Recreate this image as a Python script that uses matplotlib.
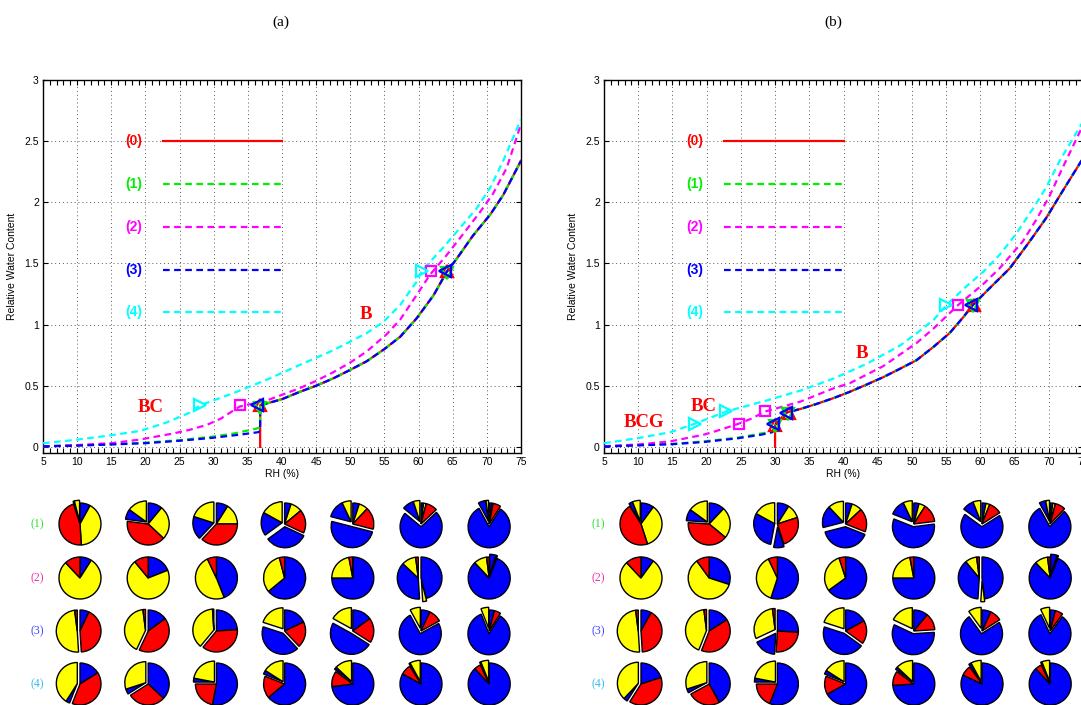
import numpy as np
import matplotlib
matplotlib.use('Agg')
import matplotlib.pyplot as plt

plt.rcParams['font.family'] = ['Liberation Sans', 'DejaVu Sans']

# ---------------- curves, panel (a) ----------------
a_up_rh = [36.8, 40, 42.6, 45, 47.5, 50, 52.4, 55, 57.3, 59.7, 62.2, 64.1, 65.6, 68, 70.5, 72.4, 75]
a_up_w = [0.34, 0.39, 0.45, 0.50, 0.56, 0.63, 0.70, 0.80, 0.90, 1.05, 1.24, 1.43, 1.54, 1.73, 1.90, 2.06, 2.34]
a0_rh = [36.8] + a_up_rh
a0_w = [0.0] + a_up_w
a1_rh = [5, 10, 15, 20, 25, 30, 33, 36.3, 36.8] + a_up_rh
a1_w = [0.005, 0.012, 0.022, 0.035, 0.055, 0.085, 0.11, 0.15, 0.16] + a_up_w
a3_rh = [5, 10, 15, 20, 25, 30, 33.8, 36.5, 36.8] + a_up_rh
a3_w = [0.004, 0.01, 0.02, 0.03, 0.05, 0.075, 0.10, 0.12, 0.13] + a_up_w
a2_rh = [5, 10, 15, 19.2, 24.1, 26.5, 29, 31, 33.8, 37.8, 42.6, 45, 47.5, 50, 52.4, 55.3, 57.3,
         59.7, 61.7, 64, 66.1, 69, 70.9, 72.9, 75]
a2_w = [0.005, 0.015, 0.03, 0.06, 0.11, 0.14, 0.18, 0.23, 0.33, 0.38, 0.48, 0.54, 0.61, 0.69, 0.78,
        0.92, 1.04, 1.24, 1.41, 1.56, 1.71, 1.92, 2.07, 2.28, 2.64]
a4_rh = [5, 9.4, 14.3, 19.2, 23.1, 26.5, 28, 32.9, 37.8, 42.6, 47.5, 52.4, 54.8, 57.3, 59.7, 60.5,
         63.6, 65.6, 68.5, 70.5, 72.4, 75]
a4_w = [0.03, 0.055, 0.09, 0.13, 0.20, 0.28, 0.34, 0.44, 0.55, 0.67, 0.79, 0.93, 1.02, 1.16, 1.35,
        1.44, 1.63, 1.76, 1.95, 2.12, 2.34, 2.68]

# transition points (markers) for series (0)..(4)
a_mk_rh = [[36.8, 64.1], [36.8, 64.1], [33.8, 61.8], [36.4, 63.9], [28.0, 60.5]]
a_mk_w = [[0.34, 1.44], [0.32, 1.42], [0.34, 1.44], [0.34, 1.44], [0.34, 1.44]]

# ---------------- curves, panel (b) ----------------
b_up_rh = [30.0, 31.6, 33.7, 36, 38.6, 40.9, 43.4, 45.8, 48.3, 50.7, 53.2, 55.5, 57.5, 58.9, 61.4,
           64.3, 67.2, 69.6, 72, 75]
b_up_w = [0.18, 0.28, 0.31, 0.35, 0.40, 0.45, 0.51, 0.57, 0.64, 0.71, 0.82, 0.93, 1.06, 1.16, 1.30,
          1.46, 1.68, 1.87, 2.09, 2.36]
b0_rh = [30.0] + b_up_rh
b0_w = [0.0] + b_up_w
b1_rh = [5, 10, 15, 19.6, 24.5, 28, 30] + b_up_rh
b1_w = [0.005, 0.015, 0.025, 0.045, 0.075, 0.11, 0.13] + b_up_w
b3_rh = [5, 10, 15, 19.6, 24.5, 28, 29.6] + b_up_rh
b3_w = [0.003, 0.012, 0.022, 0.04, 0.07, 0.10, 0.12] + b_up_w
b2_rh = [5, 10, 14.7, 19.6, 22, 24.7, 26.5, 28.6, 33.7, 38.6, 40.9, 45.8, 50.7, 53.2, 56.75, 60.4,
         62.8, 66.2, 68.2, 70.1, 72, 75]
b2_w = [0.005, 0.02, 0.045, 0.10, 0.14, 0.19, 0.23, 0.29, 0.37, 0.48, 0.52, 0.66, 0.85, 0.97, 1.16,
        1.33, 1.46, 1.68, 1.86, 2.05, 2.28, 2.63]
b4_rh = [5, 9.8, 14.7, 18.3, 22.9, 28.8, 33.7, 38.6, 43.4, 48.3, 50.7, 53.2, 55.05, 57.9, 60.4,
         62.8, 65.2, 67.7, 69.6, 71.6, 75]
b4_w = [0.03, 0.07, 0.12, 0.19, 0.29, 0.38, 0.46, 0.56, 0.68, 0.83, 0.93, 1.04, 1.16, 1.31, 1.43,
        1.57, 1.74, 1.95, 2.12, 2.34, 2.66]

b_mk_rh = [[30.0, 32.0, 59.0], [30.0, 31.9, 58.9], [24.7, 28.6, 56.75], [29.7, 31.6, 58.7],
           [18.3, 22.9, 55.05]]
b_mk_w = [[0.18, 0.28, 1.16], [0.17, 0.27, 1.15], [0.19, 0.29, 1.16], [0.19, 0.28, 1.16],
          [0.19, 0.29, 1.16]]

series_lbl = ['(0)', '(1)', '(2)', '(3)', '(4)']

# ---------------- pie compositions (clockwise from top, '*' = exploded group) ----------------
pies_a = [
    ["b.08 y.41 r.46 | *b.01 y.04", "b.11 y.26 r.40 | *b.08 y.15", "b.09 y.16 r.37 | *b.18 y.20",
     "b.05 y.09 r.18 | *b.33 | *b.18 y.17", "b.05 y.07 r.17 | *b.50 | *b.14 y.07",
     "b.02 y.02 r.09 | *b.73 | *b.09 y.05", "b.02 y.01 r.06 | *b.83 | *b.06 y.02"],
    ["b.09 y.79 r.12", "b.19 y.70 r.11", "b.44 y.49 r.07", "b.64 y.32 r.04", "b.75 y.22 r.03",
     "b.46 | *y.03 | *b.38 y.11 r.02", "*b.05 y.01 | b.82 y.10 r.02"],
    ["b.07 r.42 | *y.49 r.02", "b.15 r.42 | *y.41 r.02", "b.24 r.37 | *y.38 r.01",
     "b.18 r.20 | *b.42 | *y.20", "b.15 r.19 | *b.49 | *y.17", "b.07 r.10 | *b.75 | *y.08",
     "b.04 r.05 | *b.85 | *y.06"],
    ["b.16 r.40 | *b.03 y.41", "b.37 r.29 | *b.04 y.30", "b.53 r.22 | *b.03 y.22",
     "b.64 r.17 | *b.03 y.16", "b.73 r.12 | *b.02 y.13", "b.83 r.08 | *b.01 y.08",
     "b.88 r.05 | *b.01 y.06"],
]
pies_b = [
    ["b.10 y.35 r.46 | *b.03 y.06", "b.12 y.24 r.40 | *b.09 y.15", "b.09 y.11 r.25 | *b.08 | *b.30 y.17",
     "b.05 y.08 r.18 | *b.40 | *b.17 y.12", "b.04 y.05 r.14 | *b.58 | *b.12 y.07",
     "b.03 y.03 r.10 | *b.69 | *b.09 y.06", "b.02 y.02 r.08 | *b.80 | *b.05 y.03"],
    ["b.10 y.78 r.12", "b.30 y.60 r.10", "b.55 y.38 r.07", "b.65 y.30 r.05", "b.75 y.22 r.03",
     "b.48 | *y.03 | *b.38 y.09 r.02", "*b.05 y.01 | b.82 y.10 r.02"],
    ["b.08 r.41 | *y.49 r.02", "b.16 r.40 | *y.42 r.02", "b.26 r.25 | *b.17 | *y.30 r.02",
     "b.17 r.18 | *b.45 | *y.20", "b.11 r.13 | *b.58 | *y.18", "b.07 r.09 | *b.74 | *y.10",
     "b.04 r.06 | *b.83 | *y.07"],
    ["b.20 r.39 | *b.03 y.38", "b.42 r.25 | *b.03 y.30", "b.56 r.19 | *b.03 y.22",
     "b.67 r.14 | *b.03 y.16", "b.74 r.11 | *b.02 y.13", "b.82 r.08 | *b.02 y.08",
     "b.88 r.05 | *b.01 y.06"],
]
row_lbl = ['(1)', '(2)', '(3)', '(4)']

# ---------------- styles ----------------
line_cols = ['#ff0000', '#00ee00', '#ff00ff', '#0000ff', '#00ffff']
mk_style = ['^', 'v', 's', '<', '>']
mk_size = [8, 8, 7, 8, 8]
row_cols = ['#33dd33', '#ee33aa', '#4444ff', '#33bbee']
pie_cols = {'b': '#0000ff', 'y': '#ffff00', 'r': '#ff0000'}

W, H = 1081, 705
fig = plt.figure(figsize=(W / 100, H / 100), dpi=100)


def style_axes(ax):
    ax.set_xlim(5, 75)
    ax.set_ylim(-0.05, 3)
    ax.set_xticks(np.arange(5, 76, 5))
    ax.set_xticks(np.arange(5, 76, 1), minor=True)
    ax.set_yticks(np.arange(0, 3.01, 0.5))
    ax.set_yticklabels(['0', '0.5', '1', '1.5', '2', '2.5', '3'])
    ax.tick_params(which='both', direction='in', top=True, right=True, length=3.5,
                   width=0.8, labelsize=7.5, pad=3)
    ax.grid(True, which='major', linestyle=(0, (1, 3)), color='0.35', linewidth=0.7)
    for s in ax.spines.values():
        s.set_linewidth(1.0)
    ax.set_xlabel('RH (%)', fontsize=7.5, labelpad=1)
    ax.set_ylabel('Relative Water Content', fontsize=7.5, labelpad=5)


def draw_curves(ax, xs, ys, mk_x, mk_y):
    for i in range(5):
        ls = '-' if i == 0 else (0, (3, 2))
        ax.plot(xs[i], ys[i], color=line_cols[i], linestyle=ls, linewidth=1.6, zorder=3)
    for i in range(5):
        ax.plot(mk_x[i], mk_y[i], linestyle='none', marker=mk_style[i], markersize=mk_size[i],
                markerfacecolor='none', markeredgecolor=line_cols[i], markeredgewidth=1.6, zorder=4)
    # hand-made legend
    for i, yl in enumerate([2.5, 2.15, 1.8, 1.45, 1.1]):
        ls = '-' if i == 0 else (0, (3, 2))
        ax.plot([22.5, 40], [yl, yl], color=line_cols[i], linestyle=ls, linewidth=1.6)
        ax.text(18.3, yl, series_lbl[i], color=line_cols[i], fontsize=10, fontweight='bold',
                ha='center', va='center')


def draw_pie(ax, spec, cx, cy, R=21.0):
    groups = [g.strip() for g in spec.split('|')]
    parsed = []
    for g in groups:
        out = g.startswith('*')
        toks = g.lstrip('*').split()
        parsed.append((out, [t[0] for t in toks], [float(t[1:]) for t in toks]))
    total = sum(sum(v) for _, _, v in parsed)
    cum = 0.0
    for out, cs, vs in parsed:
        fr = [v / total * 0.999999 for v in vs]
        mid = np.radians(90 - 360 * (cum + sum(fr) / 2))
        d = 0.13 * R if out else 0.0
        ax.pie(fr, colors=[pie_cols[c] for c in cs], startangle=90 - 360 * cum,
               counterclock=False, normalize=False, radius=R,
               center=(cx + d * np.cos(mid), cy + d * np.sin(mid)),
               wedgeprops=dict(edgecolor='k', linewidth=1.0))
        cum += sum(fr)


# ---------------- pies ----------------
pie_h = 0.30 * H
axp = fig.add_axes([0, 0, 1, 0.30])
row_py = [524, 578, 631, 684]
for pies, x0, lx in [(pies_a, 80, 37), (pies_b, 641, 598)]:
    for r, row in enumerate(pies):
        cy = H - row_py[r]
        axp.text(lx, cy, row_lbl[r], color=row_cols[r], fontsize=8.5,
                 family=['Liberation Serif', 'DejaVu Serif'], ha='center', va='center')
        for c, spec in enumerate(row):
            draw_pie(axp, spec, x0 + 68.2 * c, cy)
axp.set_xlim(0, W)
axp.set_ylim(0, pie_h)
axp.set_aspect('auto')
axp.axis('off')

# ---------------- line panels ----------------
bottom = (H - 453) / H
height = 373 / H
ax_a = fig.add_axes([43 / W, bottom, 478 / W, height])
ax_b = fig.add_axes([604 / W, bottom, 479 / W, height])

draw_curves(ax_a, [a0_rh, a1_rh, a2_rh, a3_rh, a4_rh], [a0_w, a1_w, a2_w, a3_w, a4_w], a_mk_rh, a_mk_w)
draw_curves(ax_b, [b0_rh, b1_rh, b2_rh, b3_rh, b4_rh], [b0_w, b1_w, b2_w, b3_w, b4_w], b_mk_rh, b_mk_w)
style_axes(ax_a)
style_axes(ax_b)

serif = ['Liberation Serif', 'DejaVu Serif']
tkw = dict(color='red', fontsize=13.5, fontweight='bold', family=serif, ha='center', va='center')
ax_a.text(20.7, 0.32, 'BC', **tkw)
ax_a.text(52.3, 1.08, 'B', **tkw)
ax_b.text(10.8, 0.20, 'BCG', **tkw)
ax_b.text(19.6, 0.33, 'BC', **tkw)
ax_b.text(42.7, 0.76, 'B', **tkw)

fig.text(281 / W, 1 - 22 / H, '(a)', fontsize=11, family=serif, ha='center', va='center')
fig.text(833 / W, 1 - 22 / H, '(b)', fontsize=11, family=serif, ha='center', va='center')

fig.savefig('out.png', dpi=100)
